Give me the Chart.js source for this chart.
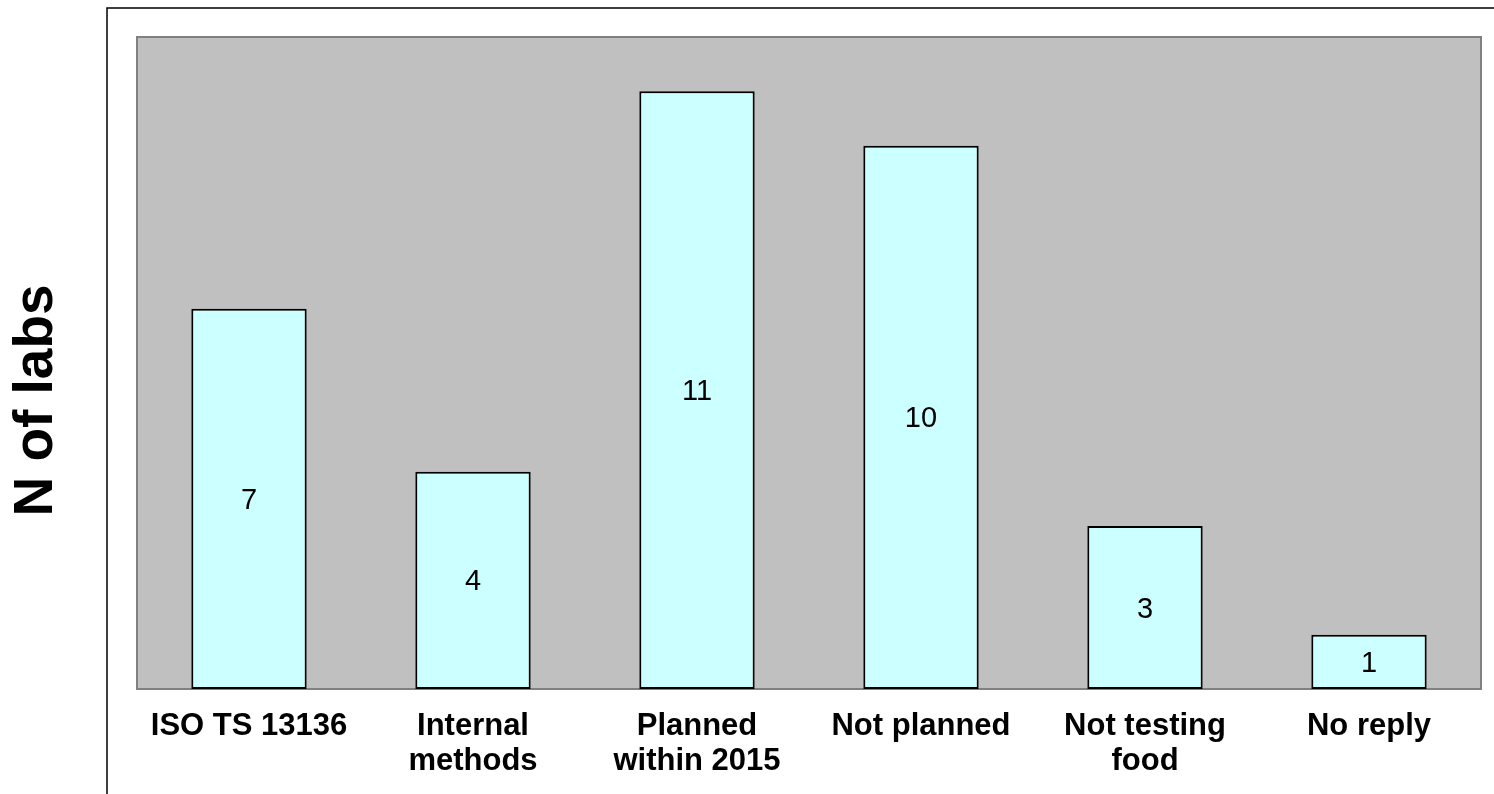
<!DOCTYPE html>
<html>
<head>
<meta charset="utf-8">
<script src="https://cdn.jsdelivr.net/npm/chart.js@4.4.1/dist/chart.umd.min.js"></script>
<style>
html,body{margin:0;padding:0;background:#fff;}
#wrap{width:1494px;height:794px;position:relative;}
</style>
</head>
<body>
<div id="wrap"><canvas id="c" width="1494" height="794"></canvas></div>
<script>
const categories = [
  'ISO TS 13136',
  ['Internal', 'methods'],
  ['Planned', 'within 2015'],
  'Not planned',
  ['Not testing', 'food'],
  'No reply'
];
const labCounts = [7, 4, 11, 10, 3, 1];
const yAxisTitle = 'N of labs';
const yMin = 0;
const yMax = 12;

const FONT = '"Liberation Sans", Arial, Helvetica, sans-serif';

const decorPlugin = {
  id: 'decor',
  beforeDraw(chart) {
    const ctx = chart.ctx;
    const a = chart.chartArea;
    ctx.save();
    // outer frame
    ctx.strokeStyle = '#000';
    ctx.lineWidth = 1.5;
    ctx.beginPath();
    ctx.moveTo(107, 794);
    ctx.lineTo(107, 8);
    ctx.lineTo(1494, 8);
    ctx.stroke();
    // plot area
    ctx.fillStyle = '#C0C0C0';
    ctx.fillRect(a.left, a.top, a.right - a.left, a.bottom - a.top);
    ctx.strokeStyle = '#808080';
    ctx.lineWidth = 2;
    ctx.strokeRect(a.left, a.top, a.right - a.left, a.bottom - a.top);
    // y title
    ctx.translate(52, 400.5);
    ctx.rotate(-Math.PI / 2);
    ctx.fillStyle = '#000';
    ctx.font = 'bold 55px ' + FONT;
    ctx.textAlign = 'center';
    ctx.textBaseline = 'alphabetic';
    ctx.fillText(yAxisTitle, 0, 0);
    ctx.restore();
  },
  afterDatasetsDraw(chart) {
    const ctx = chart.ctx;
    const meta = chart.getDatasetMeta(0);
    ctx.save();
    ctx.fillStyle = '#000';
    ctx.font = '29px ' + FONT;
    ctx.textAlign = 'center';
    ctx.textBaseline = 'middle';
    meta.data.forEach((bar, i) => {
      const p = bar.getProps(['x', 'y', 'base'], true);
      ctx.fillText(String(labCounts[i]), p.x, (p.y + p.base) / 2 + 2);
    });
    ctx.restore();
  }
};

new Chart(document.getElementById('c'), {
  type: 'bar',
  data: {
    labels: categories,
    datasets: [{
      data: labCounts,
      backgroundColor: '#CCFFFF',
      borderColor: '#000',
      borderWidth: 2,
      borderSkipped: false,
      categoryPercentage: 1.0,
      barPercentage: 0.515
    }]
  },
  options: {
    responsive: false,
    animation: false,
    devicePixelRatio: 1,
    layout: { padding: { left: 137, top: 37, right: 13, bottom: 0 } },
    plugins: { legend: { display: false }, tooltip: { enabled: false } },
    scales: {
      x: {
        grid: { display: false, drawTicks: false },
        border: { display: false },
        ticks: {
          color: '#000',
          font: { family: FONT, size: 31, weight: 'bold', lineHeight: 1.13 },
          padding: 20,
          maxRotation: 0,
          autoSkip: false
        },
        afterFit(scale) { scale.height = 794 - 689; }
      },
      y: {
        display: false,
        min: yMin,
        max: yMax
      }
    }
  },
  plugins: [decorPlugin]
});
</script>
</body>
</html>
